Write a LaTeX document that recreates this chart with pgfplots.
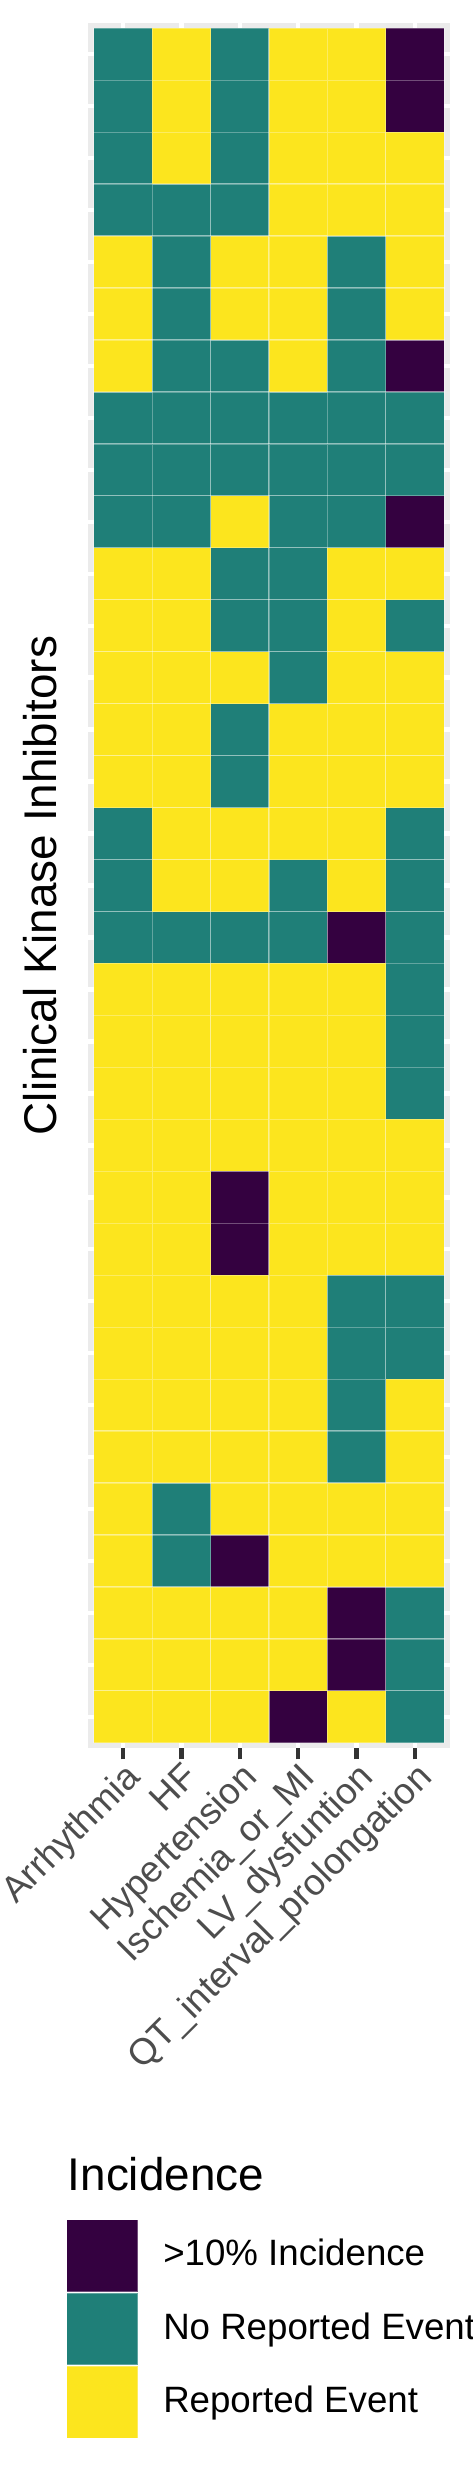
\documentclass[border=0pt]{standalone}
\usepackage{fontspec}
\setmainfont{Liberation Sans}
\usepackage{pgfplots}
\pgfplotsset{compat=1.18}
\usepackage{pgfplotstable}

\definecolor{vpurple}{RGB}{52,1,64}
\definecolor{vteal}{RGB}{31,127,120}
\definecolor{vyellow}{RGB}{252,229,30}
\definecolor{panelgrey}{RGB}{235,235,235}
\definecolor{tickgrey}{RGB}{51,51,51}
\definecolor{labelgrey}{RGB}{77,77,77}

% one tile = 1 x-unit by 1 y-unit of the axis (86.88pt/6.2 by 414pt/33.2)
\pgfdeclareplotmark{tile}{%
  \pgfpathrectangle{\pgfpoint{-7.00645pt}{-6.23494pt}}{\pgfpoint{14.0129pt}{12.46988pt}}%
  \pgfusepathqfillstroke}

% x: 0=Arrhythmia 1=HF 2=Hypertension 3=Ischemia_or_MI 4=LV_dysfuntion 5=QT_interval_prolongation
% y: row index from the top
\pgfplotstableread{
x y
5 1
5 2
5 7
5 10
4 18
2 23
2 24
2 30
4 31
4 32
3 33
}\purpleTiles

\pgfplotstableread{
x y
0 1
2 1
0 2
2 2
0 3
2 3
0 4
1 4
2 4
1 5
4 5
1 6
4 6
1 7
2 7
4 7
0 8
1 8
2 8
3 8
4 8
5 8
0 9
1 9
2 9
3 9
4 9
5 9
0 10
1 10
3 10
4 10
2 11
3 11
2 12
3 12
5 12
3 13
2 14
2 15
0 16
5 16
0 17
3 17
5 17
0 18
1 18
2 18
3 18
5 18
5 19
5 20
5 21
4 25
5 25
4 26
5 26
4 27
4 28
1 29
1 30
5 31
5 32
5 33
}\tealTiles

\pgfplotstableread{
x y
1 1
3 1
4 1
1 2
3 2
4 2
1 3
3 3
4 3
5 3
3 4
4 4
5 4
0 5
2 5
3 5
5 5
0 6
2 6
3 6
5 6
0 7
3 7
2 10
0 11
1 11
4 11
5 11
0 12
1 12
4 12
0 13
1 13
2 13
4 13
5 13
0 14
1 14
3 14
4 14
5 14
0 15
1 15
3 15
4 15
5 15
1 16
2 16
3 16
4 16
1 17
2 17
4 17
0 19
1 19
2 19
3 19
4 19
0 20
1 20
2 20
3 20
4 20
0 21
1 21
2 21
3 21
4 21
0 22
1 22
2 22
3 22
4 22
5 22
0 23
1 23
3 23
4 23
5 23
0 24
1 24
3 24
4 24
5 24
0 25
1 25
2 25
3 25
0 26
1 26
2 26
3 26
0 27
1 27
2 27
3 27
5 27
0 28
1 28
2 28
3 28
5 28
0 29
2 29
3 29
4 29
5 29
0 30
3 30
4 30
5 30
0 31
1 31
2 31
3 31
0 32
1 32
2 32
3 32
0 33
1 33
2 33
4 33
}\yellowTiles

\begin{document}
\begin{tikzpicture}
\useasboundingbox (0,0) rectangle (113.28pt,595.2pt);
\begin{axis}[
  at={(21.12pt,175.68pt)}, anchor=south west,
  scale only axis, width=86.88pt, height=414pt,
  xmin=-0.6, xmax=5.6, ymin=0.4, ymax=33.6,
  y dir=reverse,
  axis background/.style={fill=panelgrey},
  axis line style={draw=none},
  xtick={0,1,2,3,4,5},
  xtick pos=lower, ytick pos=left,
  xticklabels={Arrhythmia,HF,Hypertension,Ischemia\_or\_MI,LV\_dysfuntion,QT\_interval\_prolongation},
  xticklabel style={rotate=45, anchor=north east, inner sep=0pt,
    font=\fontsize{8.8}{10}\selectfont, text=labelgrey},
  ytick={1,...,33}, yticklabel={\mbox{}},
  tick align=outside, major tick length=2.75pt,
  xtick style={draw=tickgrey, line width=1.07pt},
  ytick style={draw=none},
  xmajorgrids, ymajorgrids,
  grid style={white, line width=1.07pt},
  ylabel={Clinical Kinase Inhibitors},
  ylabel style={at={(axis description cs:-0.0863,0.5)}, anchor=base,
    font=\fontsize{11}{13}\selectfont},
  legend style={at={(axis description cs:0,0)}, anchor=north west,
    xshift=-5.28pt, yshift=-113.04pt, draw=none, fill=none,
    inner sep=0pt, outer sep=0pt, row sep=0pt, column sep=6pt,
    font=\fontsize{8.8}{10}\selectfont, nodes={inner sep=0pt}},
  legend cell align=left,
  legend image code/.code={\path[#1] (0pt,-8.64pt) rectangle (17.04pt,8.64pt);},
]
\addplot[only marks, mark=tile, fill=vpurple, draw=white, draw opacity=0.3, line width=0.3pt] table {\purpleTiles};
\addlegendentry{>10\% Incidence}
\addplot[only marks, mark=tile, fill=vteal, draw=white, draw opacity=0.3, line width=0.3pt] table {\tealTiles};
\addlegendentry{No Reported Event}
\addplot[only marks, mark=tile, fill=vyellow, draw=white, draw opacity=0.3, line width=0.3pt] table {\yellowTiles};
\addlegendentry{Reported Event}
\end{axis}
\node[anchor=base west, inner sep=0pt, font=\fontsize{11}{13}\selectfont] at (16.08pt,69.36pt) {Incidence};
\end{tikzpicture}
\end{document}
